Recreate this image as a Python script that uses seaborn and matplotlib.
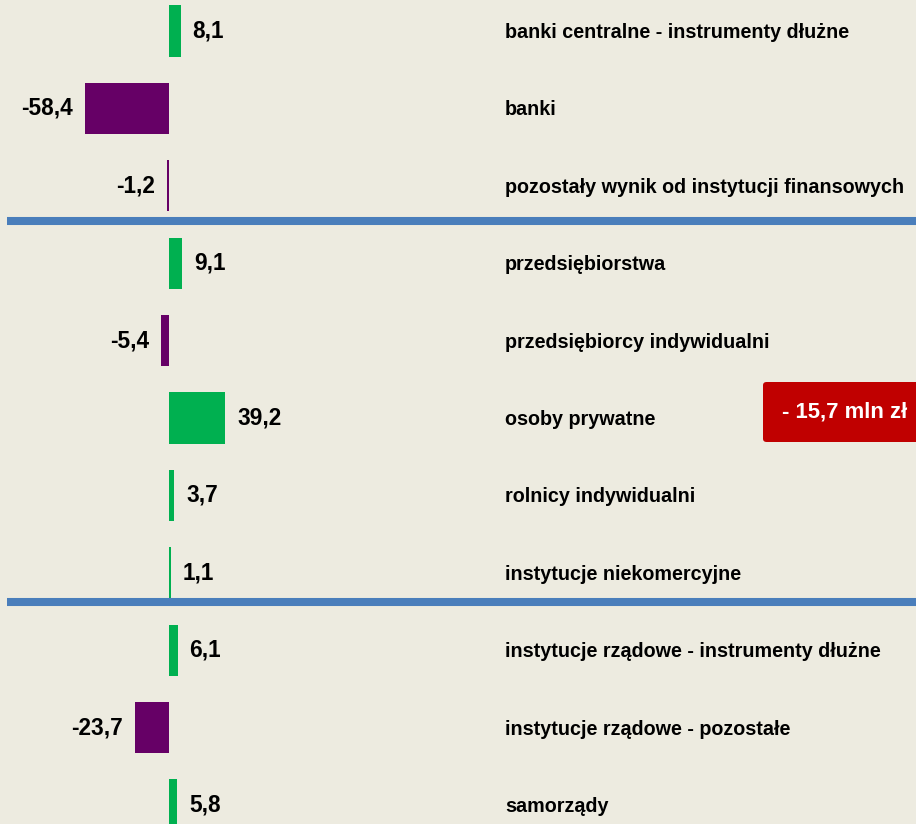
import numpy as np
import pandas as pd
import matplotlib.pyplot as plt
import seaborn as sns
from matplotlib.patches import FancyBboxPatch

# data
categories = ['banki centralne - instrumenty dłużne', 'banki',
              'pozostały wynik od instytucji finansowych', 'przedsiębiorstwa',
              'przedsiębiorcy indywidualni', 'osoby prywatne',
              'rolnicy indywidualni', 'instytucje niekomercyjne',
              'instytucje rządowe - instrumenty dłużne',
              'instytucje rządowe - pozostałe', 'samorządy']
values = [8.1, -58.4, -1.2, 9.1, -5.4, 39.2, 3.7, 1.1, 6.1, -23.7, 5.8]
separators = [2.46, 7.38]
total_label = '- 15,7 mln zł'

bg = '#EDEBE0'
green = '#00B050'
purple = '#660066'

sns.set_style('white')
plt.rcParams['font.family'] = ['Liberation Sans', 'DejaVu Sans']

df = pd.DataFrame({'cat': categories, 'val': values})
df['sign'] = np.where(df['val'] >= 0, 'pos', 'neg')

fig = plt.figure(figsize=(9.16, 8.24), dpi=100, facecolor=bg)
ax = fig.add_axes([0, 0, 1, 1])
ax.set_facecolor(bg)

sns.barplot(data=df, x='val', y='cat', hue='sign', palette={'pos': green, 'neg': purple},
            orient='h', width=0.66, dodge=False, legend=False, ax=ax, saturation=1,
            linewidth=0)

ax.set_xlim(-117.4, 518.8)
ax.set_ylim(10.245, -0.40)

# pick a font size so the longest label is as wide as in the original (~397 px)
renderer = fig.canvas.get_renderer()
probe = fig.text(0, 0, categories[2], fontsize=10, fontweight='bold')
w = probe.get_window_extent(renderer).width
probe.remove()
fs = 10 * 397 / w

# value labels
for i, v in enumerate(values):
    txt = f'{v:.1f}'.replace('.', ',')
    if v >= 0:
        ax.annotate(txt, (v, i), xytext=(8.5, 0), textcoords='offset points',
                    ha='left', va='center', fontsize=fs * 1.15, fontweight='bold', color='black')
    else:
        ax.annotate(txt, (v, i), xytext=(-8.5, 0), textcoords='offset points',
                    ha='right', va='center', fontsize=fs * 1.15, fontweight='bold', color='black')

# category labels
for i, c in enumerate(categories):
    ax.text(233.3, i + 0.02, c, ha='left', va='center', fontsize=fs, fontweight='bold', color='black')

for s in separators:
    ax.axhline(s, xmin=7 / 916, xmax=1, color='#4A7EBB', linewidth=5.8, solid_capstyle='butt')

# red total box
box = FancyBboxPatch((763 / 916, 1 - 442 / 824), 0.2, 60 / 824,
                     boxstyle='round,pad=0,rounding_size=0.004', transform=fig.transFigure,
                     facecolor='#C00000', edgecolor='none')
fig.patches.append(box)
fig.text(845 / 916, 1 - 412 / 824, total_label, color='white', ha='center', va='center',
         fontsize=fs * 1.12, fontweight='bold')

ax.set_xlabel('')
ax.set_ylabel('')
ax.set_xticks([])
ax.set_yticks([])
for sp in ax.spines.values():
    sp.set_visible(False)

plt.savefig('out.png', dpi=100, facecolor=bg)
